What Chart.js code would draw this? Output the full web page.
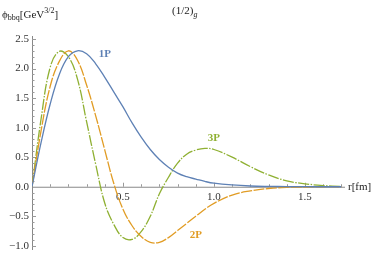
<!DOCTYPE html>
<html>
<head>
<meta charset="utf-8">
<script src="https://cdn.jsdelivr.net/npm/chart.js@4.4.1/dist/chart.umd.min.js"></script>
<style>
  html, body { margin: 0; padding: 0; background: #fff; }
  canvas { display: block; }
</style>
</head>
<body>
<canvas id="chart" width="374" height="255"></canvas>
<script>
// radial wave functions, r in fm
const rValues = [0, 0.05, 0.1, 0.15, 0.2, 0.25, 0.3, 0.35, 0.4, 0.45, 0.5, 0.55, 0.6, 0.65, 0.7, 0.75, 0.8, 0.85, 0.9, 0.95, 1.0, 1.1, 1.2, 1.3, 1.4, 1.5, 1.6, 1.7];
const onePValues = [0, 0.75, 1.4, 1.9, 2.2, 2.3, 2.25, 2.08, 1.85, 1.6, 1.35, 1.08, 0.84, 0.63, 0.46, 0.33, 0.23, 0.17, 0.13, 0.09, 0.06, 0.03, 0.013, 0.006, 0.003, 0.001, 0, 0];
const twoPValues = [0, 0.95, 1.7, 2.12, 2.3, 2.14, 1.72, 1.2, 0.62, 0.05, -0.38, -0.66, -0.84, -0.94, -0.94, -0.86, -0.74, -0.62, -0.5, -0.38, -0.28, -0.14, -0.07, -0.03, -0.01, -0.005, 0, 0];
const threePValues = [0, 1.15, 2.02, 2.29, 2.2, 1.82, 1.1, 0.38, -0.28, -0.64, -0.86, -0.89, -0.76, -0.5, -0.12, 0.16, 0.4, 0.55, 0.62, 0.65, 0.63, 0.5, 0.34, 0.2, 0.1, 0.05, 0.02, 0.005];

const xTicks = [0.5, 1.0, 1.5];
const yTicks = [-1.0, -0.5, 0.0, 0.5, 1.0, 1.5, 2.0, 2.5];

const blue = '#5E81B5';
const orange = '#E19C24';
const green = '#8FB032';

const toPoints = (values) => values.map((v, i) => ({ x: rValues[i], y: v }));

const fmt = (v) => (v < 0 ? '\u2212' : '') + Math.abs(v).toFixed(1);

const serif = '"Liberation Serif", serif';

// writes a run of [text, font, dy] pieces one after another
const drawRun = (ctx, x, y, parts) => {
  parts.forEach(([text, font, dy]) => {
    ctx.font = font;
    ctx.fillText(text, x, y + dy);
    x += ctx.measureText(text).width;
  });
};

// axes through the origin, Mathematica style
const axesPlugin = {
  id: 'axesPlugin',
  beforeDatasetsDraw(chart) {
    const { ctx, scales: { x, y } } = chart;
    const x0 = x.getPixelForValue(0);
    const y0 = y.getPixelForValue(0);
    ctx.save();
    ctx.strokeStyle = '#888';
    ctx.lineWidth = 1;
    ctx.beginPath();
    ctx.moveTo(x.left, y0 + 0.5);
    ctx.lineTo(x.right, y0 + 0.5);
    ctx.moveTo(x0 + 0.5, y.top);
    ctx.lineTo(x0 + 0.5, y.bottom);
    ctx.stroke();

    // ticks every 0.1, longer at each 0.5
    ctx.strokeStyle = '#999';
    ctx.beginPath();
    for (let i = 1; i <= 17; i++) {
      const px = Math.round(x.getPixelForValue(i / 10)) + 0.5;
      const len = i % 5 === 0 ? 4 : 2.5;
      ctx.moveTo(px, y0);
      ctx.lineTo(px, y0 - len);
    }
    for (let i = -10; i <= 25; i++) {
      if (i === 0) continue;
      const py = Math.round(y.getPixelForValue(i / 10)) + 0.5;
      const len = i % 5 === 0 ? 4 : 2.5;
      ctx.moveTo(x0, py);
      ctx.lineTo(x0 + len, py);
    }
    ctx.stroke();

    ctx.fillStyle = '#333';
    ctx.font = '11px ' + serif;
    ctx.textAlign = 'right';
    ctx.textBaseline = 'middle';
    yTicks.forEach(v => ctx.fillText(fmt(v), x0 - 3, y.getPixelForValue(v)));
    ctx.textAlign = 'center';
    ctx.textBaseline = 'top';
    xTicks.forEach(v => ctx.fillText(fmt(v), x.getPixelForValue(v), y0 + 5));
    ctx.restore();
  },
  afterDatasetsDraw(chart) {
    const { ctx, scales: { x, y } } = chart;
    ctx.save();
    ctx.textBaseline = 'alphabetic';
    ctx.textAlign = 'left';
    ctx.fillStyle = '#222';

    // title (1/2)_g
    drawRun(ctx, 172, 14, [
      ['(1/2)', '11px ' + serif, 0],
      ['g', 'italic 8px ' + serif, 3]
    ]);

    // y axis label
    drawRun(ctx, 2, 18, [
      ['\u03D5', '11px ' + serif, 0],
      ['bbq', '8px ' + serif, 2],
      ['[GeV', '11px ' + serif, 0],
      ['3/2', '8px ' + serif, -5],
      [']', '11px ' + serif, 0]
    ]);

    // x axis label
    ctx.font = '11px ' + serif;
    ctx.textBaseline = 'middle';
    ctx.fillText('r[fm]', x.right + 3, y.getPixelForValue(0));

    // series labels
    ctx.font = 'bold 11px ' + serif;
    ctx.textAlign = 'center';
    ctx.fillStyle = blue;
    ctx.fillText('1P', x.getPixelForValue(0.40), y.getPixelForValue(2.25));
    ctx.fillStyle = green;
    ctx.fillText('3P', x.getPixelForValue(1.0), y.getPixelForValue(0.82));
    ctx.fillStyle = orange;
    ctx.fillText('2P', x.getPixelForValue(0.9), y.getPixelForValue(-0.82));
    ctx.restore();
  }
};

new Chart(document.getElementById('chart'), {
  type: 'line',
  data: {
    datasets: [
      { label: '1P', data: toPoints(onePValues), borderColor: blue, borderWidth: 1.3 },
      { label: '2P', data: toPoints(twoPValues), borderColor: orange, borderWidth: 1.3, borderDash: [11, 1.5] },
      { label: '3P', data: toPoints(threePValues), borderColor: green, borderWidth: 1.3, borderDash: [11, 1.5, 1.5, 1.5] }
    ]
  },
  options: {
    responsive: false,
    animation: false,
    layout: { padding: { left: 32, right: 29, top: 36, bottom: 5 } },
    elements: {
      point: { radius: 0 },
      line: { tension: 0.4, fill: false }
    },
    plugins: {
      legend: { display: false },
      tooltip: { enabled: false }
    },
    scales: {
      x: { type: 'linear', min: 0, max: 1.72, display: false },
      y: { type: 'linear', min: -1.07, max: 2.55, display: false }
    }
  },
  plugins: [axesPlugin]
});
</script>
</body>
</html>
